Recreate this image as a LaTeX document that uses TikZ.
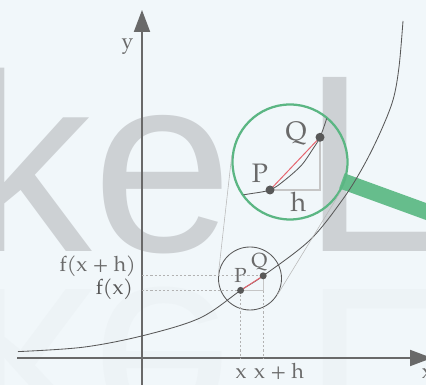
\documentclass[tikz,border=0pt]{standalone}
\usepackage{fontspec}
\usepackage{tikz}
\usetikzlibrary{arrows.meta, calc}
\newfontfamily\markfont{Liberation Sans}
\newfontfamily\plotfont{TeX Gyre Pagella}
\definecolor{paperBlue}{HTML}{F1F7FA}
\definecolor{markGray}{HTML}{CDD1D4}
\definecolor{axisGray}{HTML}{696969}
\definecolor{inkGray}{HTML}{585858}
\definecolor{textGray}{HTML}{6A6A6A}
\definecolor{lensGreen}{HTML}{5BB683}
\definecolor{handleGreen}{HTML}{66BD8C}
\definecolor{chordRed}{HTML}{E6646E}

\begin{document}
\begin{tikzpicture}[
    axis/.style={draw=axisGray, line width=1.4pt, -{Triangle[length=5.5mm, width=4mm]}},
    graph/.style={draw=inkGray, line width=0.6pt},
    guide/.style={draw=gray!60, line width=0.5pt, dash pattern=on 1.5pt off 1.5pt},
    leg/.style={draw=gray!45, line width=0.6pt},
    chord/.style={draw=chordRed, line width=0.7pt},
    tangent/.style={draw=gray!55, line width=0.4pt},
    dot/.style={circle, fill=inkGray, inner sep=0pt, minimum size=1.75mm},
    bigdot/.style={dot, minimum size=2.25mm},
    lbl/.style={inner sep=0pt, text=textGray, font=\plotfont\fontsize{15}{18}\selectfont},
    smalllbl/.style={lbl, font=\plotfont\fontsize{14.5}{17}\selectfont},
    biglbl/.style={lbl, font=\plotfont\fontsize{19}{22}\selectfont},
    watermark/.style={anchor=base west, inner sep=0pt, text=markGray, font=\markfont\fontsize{180}{200}\selectfont},
  ]
  % frame
  \useasboundingbox (-3.55,-0.675) rectangle (7.1,8.95);
  \clip (-3.55,-0.675) rectangle (7.1,8.95);
  \fill[paperBlue] (-3.55,-0.675) rectangle (7.1,8.95);

  % watermark and its reflection
  \node[watermark] (word) at (-4.42,2.66) {ke L};
  \node[watermark, yscale=-1, text=markGray!11!paperBlue] (echo) at (-4.42,1.7) {ke L};

  % axes
  \coordinate (O) at (0,0);
  \draw[axis] (-3.12,0) -- (7.25,0);
  \draw[axis] (0,-0.7) -- (0,8.7);
  \node[lbl] (ylabel) at (-0.36,7.78) {y};
  \node[lbl, anchor=base] (xlabel) at (7.13,-0.51) {x};

  % handle of the loupe
  \coordinate (lensc) at (3.7,4.9);
  \draw[handleGreen, line width=4mm] ($(lensc)+(-20:1.38)$) -- ++(-20:5);

  % graph of f
  \draw[graph] plot[smooth, tension=0.55] coordinates {(-3.1,0.16) (-1.47,0.27) (0.03,0.56) (1.45,1.0) (2.465,1.69) (3.03,2.055) (4.2,2.95) (5.025,3.975) (5.525,4.775) (5.95,5.625) (6.275,6.45) (6.425,7.275) (6.525,8.425)};

  % spot under the loupe
  \coordinate (p) at (2.465,1.69);
  \coordinate (q) at (3.03,2.055);
  \node[circle, draw=inkGray, line width=0.6pt, minimum size=1.575cm, inner sep=0pt] (spot) at (2.7,1.9875) {};
  \draw[guide] (O |- p) -- (p);
  \draw[guide] (p) -- (p |- O);
  \draw[guide] (O |- q) -- (q);
  \draw[guide] (p -| q) -- (q |- O);
  \draw[leg] (p) -- (p -| q) -- (q);
  \draw[chord] (p) -- (q);
  \node[dot] (pdot) at (p) {};
  \node[dot] (qdot) at (q) {};
  \node[smalllbl] (plabel) at (2.4625,2.075) {P};
  \node[smalllbl] (qlabel) at (2.9375,2.3875) {Q};

  \node[lbl, anchor=base east] (fxh) at (-0.15,2.1575) {f(x + h)};
  \node[lbl, anchor=base east, text=inkGray] (fx) at (-0.2175,1.5925) {f(x)};
  \node[lbl, anchor=base] (xtick) at (2.475,-0.5075) {x};
  \node[lbl, anchor=base] (xhtick) at (3.425,-0.5075) {x + h};

  % lens ring and the two tangents to the spot
  \node[circle, draw=lensGreen, line width=1.6pt, minimum size=2.875cm, inner sep=0pt] (lens) at (lensc) {};
  \coordinate (E) at ($(spot.center)!-1.2115!(lens.center)$);
  \draw[tangent] (tangent cs:node=spot, point={(E)}, solution=1) -- (tangent cs:node=lens, point={(E)}, solution=1);
  \draw[tangent] (tangent cs:node=spot, point={(E)}, solution=2) -- (tangent cs:node=lens, point={(E)}, solution=2);

  % magnified view
  \begin{scope}
    \clip (lensc) circle (1.42);
    \draw[graph] plot[smooth] coordinates {(2.075,4.0) (2.6175,4.0925) (3.2,4.2) (3.575,4.45) (3.9925,4.825) (4.2825,5.2425) (4.45,5.5175) (4.6175,5.9925) (4.725,6.45)};
  \end{scope}
  \coordinate (pp) at (3.2,4.2);
  \coordinate (qq) at (4.45,5.5175);
  \draw[leg, line width=0.9pt] (pp) -- (pp -| qq) -- (qq);
  \draw[chord] (pp) -- (qq);
  \node[bigdot] (ppdot) at (pp) {};
  \node[bigdot] (qqdot) at (qq) {};
  \node[biglbl] (pplabel) at (2.95,4.6175) {P};
  \node[biglbl] (qqlabel) at (3.85,5.6175) {Q};
  \node[biglbl] (hlabel) at (3.9075,3.8925) {h};
\end{tikzpicture}
\end{document}
